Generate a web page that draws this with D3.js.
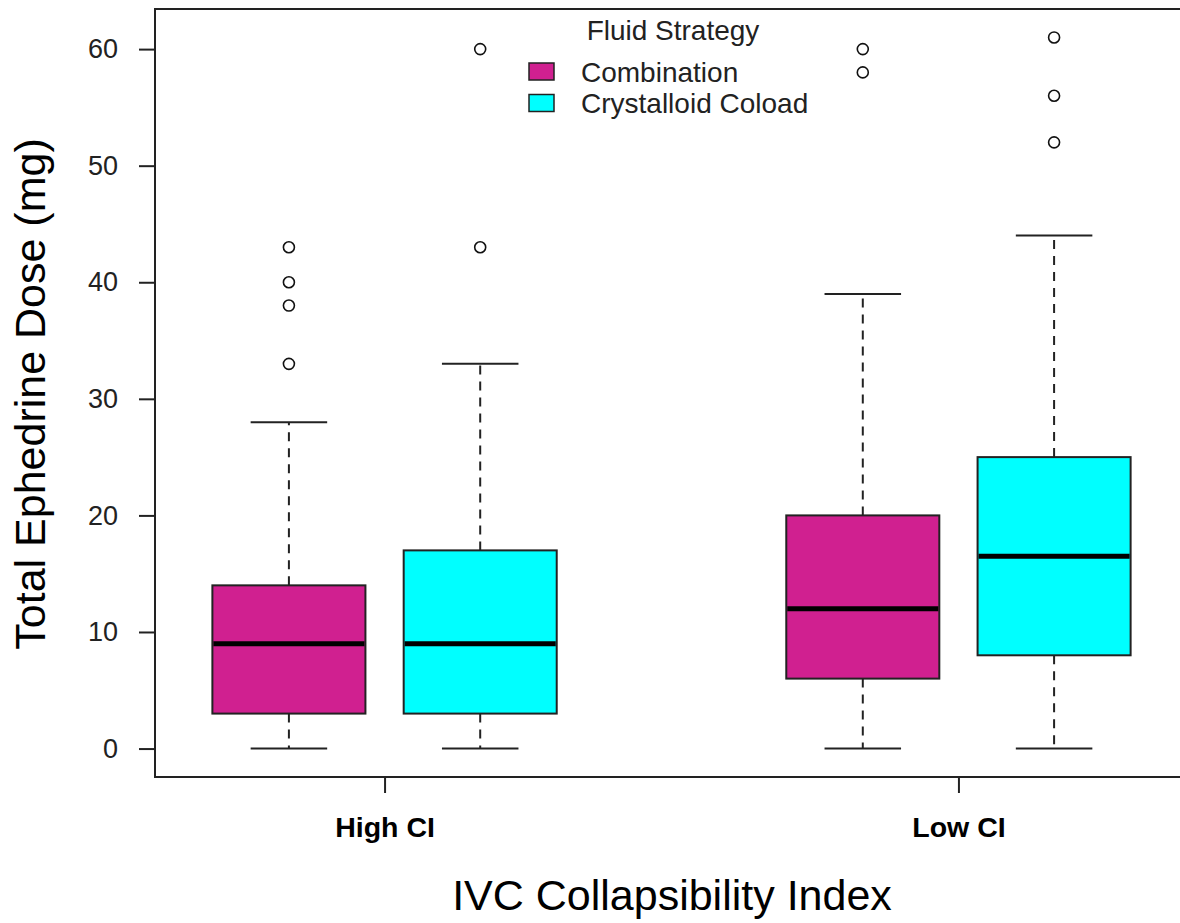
<!DOCTYPE html>
<html>
<head>
<meta charset="utf-8">
<script src="https://cdn.jsdelivr.net/npm/d3@7"></script>
<style>
  html, body { margin: 0; padding: 0; background: #fff; }
  svg { display: block; font-family: "Liberation Sans", Arial, sans-serif; }
</style>
</head>
<body>
<svg id="chart" width="1180" height="923"></svg>
<script>
// ---- Data ----
const groups = ["High CI", "Low CI"];
const strategies = ["Combination", "Crystalloid Coload"];
const colors = ["#D02090", "#00FFFF"];
// boxes in order: High CI/Combination, High CI/Crystalloid, Low CI/Combination, Low CI/Crystalloid
const boxGroup    = [0, 0, 1, 1];
const boxStrategy = [0, 1, 0, 1];
const boxPos      = [1, 2, 4, 5];
const whiskerLow  = [0, 0, 0, 0];
const q1          = [3, 3, 6, 8];
const median      = [9, 9, 12, 16.5];
const q3          = [14, 17, 20, 25];
const whiskerHigh = [28, 33, 39, 44];
const outliers    = [[33, 38, 40, 43], [43, 60], [58, 60], [52, 56, 61]];
const groupPos    = [1.5, 4.5];
const yTicks      = [0, 10, 20, 30, 40, 50, 60];

// ---- Layout ----
const svg = d3.select("#chart");
const pL = 155, pR = 1188, pT = 9, pB = 777;
const x = d3.scaleLinear().domain([0.3, 5.7]).range([pL, pR]);
const y = d3.scaleLinear().domain([-2.44, 63.44]).range([pB, pT]);
const boxW = x(0.8) - x(0);
const capW = x(0.4) - x(0);

// plot frame
svg.append("rect")
  .attr("x", pL).attr("y", pT)
  .attr("width", pR - pL).attr("height", pB - pT)
  .attr("fill", "none").attr("stroke", "#222").attr("stroke-width", 2);

// y axis
const yAxis = d3.axisLeft(y).tickValues(yTicks).tickSize(16).tickPadding(21);
const gy = svg.append("g").attr("transform", `translate(${pL},0)`).call(yAxis);
gy.select(".domain").remove();
gy.selectAll(".tick line").attr("stroke", "#222").attr("stroke-width", 2);
gy.selectAll(".tick text").attr("font-size", 27).attr("fill", "#222")
  .attr("font-family", "'Liberation Sans', Arial, sans-serif");

// x axis
const xAxis = d3.axisBottom(x).tickValues(groupPos).tickSize(16).tickPadding(24)
  .tickFormat((d, i) => groups[i]);
const gx = svg.append("g").attr("transform", `translate(0,${pB})`).call(xAxis);
gx.select(".domain").remove();
gx.selectAll(".tick line").attr("stroke", "#222").attr("stroke-width", 2);
gx.selectAll(".tick text").attr("font-size", 28.5).attr("font-weight", "bold").attr("fill", "#000")
  .attr("font-family", "'Liberation Sans', Arial, sans-serif");

// boxes
const boxes = svg.append("g");
boxPos.forEach((p, i) => {
  const cx = x(p);
  const g = boxes.append("g");
  // whiskers (dashed)
  g.append("line").attr("x1", cx).attr("x2", cx).attr("y1", y(q3[i])).attr("y2", y(whiskerHigh[i]))
    .attr("stroke", "#222").attr("stroke-width", 2).attr("stroke-dasharray", "9,7");
  g.append("line").attr("x1", cx).attr("x2", cx).attr("y1", y(q1[i])).attr("y2", y(whiskerLow[i]))
    .attr("stroke", "#222").attr("stroke-width", 2).attr("stroke-dasharray", "9,7");
  // caps
  [whiskerHigh[i], whiskerLow[i]].forEach(v => {
    g.append("line").attr("x1", cx - capW / 2).attr("x2", cx + capW / 2)
      .attr("y1", y(v)).attr("y2", y(v)).attr("stroke", "#222").attr("stroke-width", 2);
  });
  // box
  g.append("rect").attr("x", cx - boxW / 2).attr("y", y(q3[i]))
    .attr("width", boxW).attr("height", y(q1[i]) - y(q3[i]))
    .attr("fill", colors[boxStrategy[i]]).attr("stroke", "#222").attr("stroke-width", 2);
  // median
  g.append("line").attr("x1", cx - boxW / 2 + 1).attr("x2", cx + boxW / 2 - 1)
    .attr("y1", y(median[i])).attr("y2", y(median[i]))
    .attr("stroke", "#000").attr("stroke-width", 5);
  // outliers
  g.selectAll("circle.o").data(outliers[i]).enter().append("circle")
    .attr("cx", cx).attr("cy", d => y(d)).attr("r", 5.5)
    .attr("fill", "none").attr("stroke", "#111").attr("stroke-width", 1.6);
});

// axis titles
svg.append("text").attr("x", 672).attr("y", 910)
  .attr("text-anchor", "middle").attr("font-size", 43).attr("fill", "#000")
  .text("IVC Collapsibility Index");
svg.append("text").attr("transform", `translate(45,394) rotate(-90)`)
  .attr("text-anchor", "middle").attr("font-size", 43).attr("fill", "#000")
  .text("Total Ephedrine Dose (mg)");

// legend
const leg = svg.append("g");
leg.append("text").attr("x", 673).attr("y", 40).attr("text-anchor", "middle")
  .attr("font-size", 28).attr("fill", "#222").text("Fluid Strategy");
strategies.forEach((s, i) => {
  const cy = 71.5 + i * 31.5;
  leg.append("rect").attr("x", 529).attr("y", cy - 8.5).attr("width", 25).attr("height", 17)
    .attr("fill", colors[i]).attr("stroke", "#222").attr("stroke-width", 1.5);
  leg.append("text").attr("x", 581).attr("y", cy + 10).attr("font-size", 28).attr("fill", "#222")
    .text(s);
});
</script>
</body>
</html>
